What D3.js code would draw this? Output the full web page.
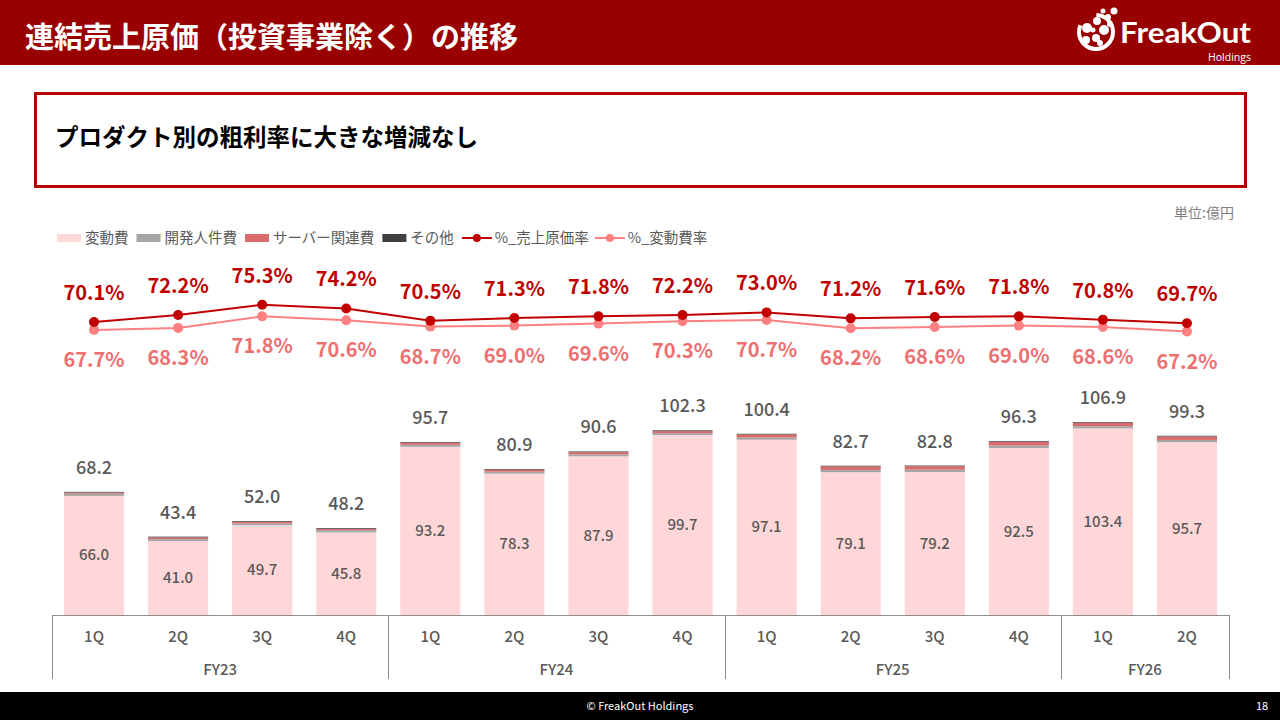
<!DOCTYPE html>
<html><head><meta charset="utf-8">
<script src="https://cdn.jsdelivr.net/npm/d3@7"></script>
<style>
html,body{margin:0;padding:0;background:#fff;}
svg{display:block;font-family:"Noto Sans CJK JP","Noto Sans",sans-serif;}
</style></head>
<body>
<svg id="c" width="1280" height="720"></svg>
<script>
// ---- data ----
const quarters = ["1Q","2Q","3Q","4Q","1Q","2Q","3Q","4Q","1Q","2Q","3Q","4Q","1Q","2Q"];
const fiscalYears = ["FY23","FY24","FY25","FY26"];
const fyCounts = [4,4,4,2];
const variableCost = [66.0,41.0,49.7,45.8,93.2,78.3,87.9,99.7,97.1,79.1,79.2,92.5,103.4,95.7];
const devPersonnel = [1.2,1.0,1.1,1.2,1.1,1.1,1.1,1.1,1.2,1.3,1.3,1.4,1.2,1.3];
const serverCost   = [0.6,1.0,0.8,0.8,1.0,1.1,1.2,1.1,1.7,1.9,1.9,2.0,1.9,1.9];
const otherCost    = [0.4,0.4,0.4,0.4,0.4,0.4,0.4,0.4,0.4,0.4,0.4,0.4,0.4,0.4];
const totalCost = [68.2,43.4,52.0,48.2,95.7,80.9,90.6,102.3,100.4,82.7,82.8,96.3,106.9,99.3];
const costRate = [70.1,72.2,75.3,74.2,70.5,71.3,71.8,72.2,73.0,71.2,71.6,71.8,70.8,69.7];
const variableRate = [67.7,68.3,71.8,70.6,68.7,69.0,69.6,70.3,70.7,68.2,68.6,69.0,68.6,67.2];
const seriesNames = ["変動費","開発人件費","サーバー関連費","その他"];
const lineNames = ["%_売上原価率","%_変動費率"];

// ---- styles ----
const barColors = ["#FFD7D9","#A6A6A6","#D96B6B","#404040"];
const lineColors = ["#C00000","#FF8080"];
const labelLight = "#EE6F70";
const textGray = "#595959";

const svg = d3.select("#c");

// header
svg.append("rect").attr("x",0).attr("y",0).attr("width",1280).attr("height",65).attr("fill","#990000");
svg.append("text").attr("x",25).attr("y",48).attr("fill","#fff").attr("font-size",29).attr("font-weight",700)
  .text("連結売上原価（投資事業除く）の推移");
// logo
const logo = svg.append("g");
const dots = [[1087,28,5],[1097,21,4],[1104,30,5],[1096,38,4],[1086,40,4],[1108,17,3],[1114,11,3.5],[1103,11,2.5],[1110,24,3],[1093,30,2.5],[1100,43,3]];
logo.append("circle").attr("cx",1096).attr("cy",32).attr("r",17).attr("fill","none").attr("stroke","#fff").attr("stroke-width",4).attr("stroke-dasharray","60 20");
dots.forEach(d=>logo.append("circle").attr("cx",d[0]).attr("cy",d[1]).attr("r",d[2]).attr("fill","#fff"));
logo.append("text").attr("x",1120).attr("y",43).attr("fill","#fff").attr("font-size",28).attr("font-weight",700)
  .attr("textLength",131).attr("lengthAdjust","spacingAndGlyphs")
  .attr("font-family","Lato, 'Open Sans', sans-serif").text("FreakOut");
logo.append("text").attr("x",1251).attr("y",61).attr("text-anchor","end").attr("fill","#fff").attr("font-size",10.5)
  .attr("font-family","'Open Sans', sans-serif").text("Holdings");

// message box
svg.append("rect").attr("x",35.5).attr("y",93.5).attr("width",1210).attr("height",93).attr("fill","none")
  .attr("stroke","#B40000").attr("stroke-width",3);
svg.append("text").attr("x",55).attr("y",146).attr("fill","#000").attr("font-size",23.5).attr("font-weight",700)
  .text("プロダクト別の粗利率に大きな増減なし");

// unit
svg.append("text").attr("x",1234).attr("y",218).attr("text-anchor","end").attr("fill","#7f7f7f").attr("font-size",14).text("単位:億円");

// scales
const x = d3.scaleBand().domain(d3.range(quarters.length)).range([52,1229]).paddingInner(0.285).paddingOuter(0.1425);
const y = d3.scaleLinear().domain([0,120]).range([615,398.4]);
const yr = d3.scaleLinear().domain([60,80]).range([355.3,289.3]);

// stacked bars
const rows = d3.range(quarters.length).map(i=>({i, a:variableCost[i], b:devPersonnel[i], c:serverCost[i], d:otherCost[i]}));
const stack = d3.stack().keys(["a","b","c","d"])(rows);
svg.append("g").selectAll("g").data(stack).join("g").attr("fill",(d,k)=>barColors[k])
  .selectAll("rect").data(d=>d).join("rect")
  .attr("x",d=>x(d.data.i)).attr("width",x.bandwidth())
  .attr("y",d=>y(d[1])).attr("height",d=>y(d[0])-y(d[1]));

// inner labels
svg.append("g").selectAll("text").data(rows).join("text")
  .attr("x",d=>x(d.i)+x.bandwidth()/2).attr("y",d=>(y(0)+y(d.a))/2+5)
  .attr("text-anchor","middle").attr("fill",textGray).attr("font-size",15).attr("font-weight",500)
  .text(d=>d.a.toFixed(1));
// totals
svg.append("g").selectAll("text").data(totalCost).join("text")
  .attr("x",(d,i)=>x(i)+x.bandwidth()/2).attr("y",(d,i)=>y(d3.sum([variableCost[i],devPersonnel[i],serverCost[i],otherCost[i]]))-18)
  .attr("text-anchor","middle").attr("fill",textGray).attr("font-size",18).attr("font-weight",500)
  .text(d=>d.toFixed(1));

// lines
const cx = i=>x(i)+x.bandwidth()/2;
[variableRate,costRate].forEach((arr,k)=>{
  const col = k===0 ? lineColors[1] : lineColors[0];
  svg.append("path").datum(arr).attr("fill","none").attr("stroke",col).attr("stroke-width",2)
    .attr("d",d3.line().x((d,i)=>cx(i)).y(d=>yr(d)));
  svg.append("g").selectAll("circle").data(arr).join("circle")
    .attr("cx",(d,i)=>cx(i)).attr("cy",d=>yr(d)).attr("r",5).attr("fill",col);
});
svg.append("g").selectAll("text").data(costRate).join("text")
  .attr("x",(d,i)=>cx(i)).attr("y",d=>yr(d)-22).attr("text-anchor","middle")
  .attr("fill","#C00000").attr("font-size",20).attr("font-weight",700).text(d=>d.toFixed(1)+"%");
svg.append("g").selectAll("text").data(variableRate).join("text")
  .attr("x",(d,i)=>cx(i)).attr("y",d=>yr(d)+37).attr("text-anchor","middle")
  .attr("fill",labelLight).attr("font-size",20).attr("font-weight",700).text(d=>d.toFixed(1)+"%");

// axis
const ax = svg.append("g").attr("stroke","#8c8c8c").attr("stroke-width",1);
ax.append("line").attr("x1",52).attr("x2",1229).attr("y1",615.5).attr("y2",615.5);
let cum = 0;
const bounds = [0];
fyCounts.forEach(c=>{cum+=c;bounds.push(cum);});
const step = x.step();
const bx = k => 52 + step*k;
bounds.forEach(k=>ax.append("line").attr("x1",Math.round(bx(k))+0.5).attr("x2",Math.round(bx(k))+0.5).attr("y1",615).attr("y2",679));
svg.append("g").selectAll("text").data(quarters).join("text")
  .attr("x",(d,i)=>cx(i)).attr("y",642).attr("text-anchor","middle").attr("fill",textGray).attr("font-size",15).attr("font-weight",500).text(d=>d);
svg.append("g").selectAll("text").data(fiscalYears).join("text")
  .attr("x",(d,k)=>(bx(bounds[k])+bx(bounds[k+1]))/2).attr("y",675).attr("text-anchor","middle")
  .attr("fill",textGray).attr("font-size",15).attr("font-weight",500).text(d=>d);

// legend
const lg = svg.append("g").attr("font-size",14.5).attr("fill",textGray);
let lx = 57;
seriesNames.forEach((n,k)=>{
  lg.append("rect").attr("x",lx).attr("y",234).attr("width",24).attr("height",8).attr("fill",barColors[k]);
  const t = lg.append("text").attr("x",lx+28).attr("y",243).attr("fill",textGray).text(n);
  lx += 28 + t.node().getComputedTextLength() + 8;
});
lineNames.forEach((n,k)=>{
  lg.append("line").attr("x1",lx).attr("x2",lx+30).attr("y1",238).attr("y2",238).attr("stroke",lineColors[k]).attr("stroke-width",2);
  lg.append("circle").attr("cx",lx+15).attr("cy",238).attr("r",4).attr("fill",lineColors[k]);
  const t = lg.append("text").attr("x",lx+33).attr("y",243).attr("fill",textGray).text(n);
  lx += 33 + t.node().getComputedTextLength() + 6;
});

// footer
svg.append("rect").attr("x",0).attr("y",692).attr("width",1280).attr("height",28).attr("fill","#000");
svg.append("text").attr("x",640).attr("y",710).attr("text-anchor","middle").attr("fill","#fff").attr("font-size",11).text("© FreakOut Holdings");
svg.append("text").attr("x",1262).attr("y",710).attr("text-anchor","middle").attr("fill","#fff").attr("font-size",11).text("18");
</script>
</body></html>
